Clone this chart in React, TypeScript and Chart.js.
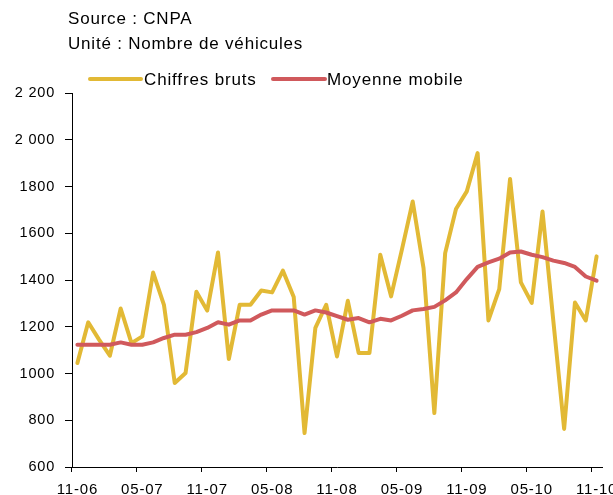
import { useEffect, useRef } from 'react';
import { Chart, registerables } from 'chart.js';

Chart.register(...registerables);

const months = [
  '11-06', '12-06',
  '01-07', '02-07', '03-07', '04-07', '05-07', '06-07', '07-07', '08-07', '09-07', '10-07', '11-07', '12-07',
  '01-08', '02-08', '03-08', '04-08', '05-08', '06-08', '07-08', '08-08', '09-08', '10-08', '11-08', '12-08',
  '01-09', '02-09', '03-09', '04-09', '05-09', '06-09', '07-09', '08-09', '09-09', '10-09', '11-09', '12-09',
  '01-10', '02-10', '03-10', '04-10', '05-10', '06-10', '07-10', '08-10', '09-10', '10-10', '11-10',
];

const shownMonths = ['11-06', '05-07', '11-07', '05-08', '11-08', '05-09', '11-09', '05-10', '11-10'];

const chiffresBruts = [
  1045, 1219, 1145, 1076, 1278, 1130, 1159, 1432, 1294, 959,
  1002, 1350, 1269, 1518, 1062, 1294, 1294, 1355, 1347, 1440,
  1327, 745, 1195, 1294, 1073, 1311, 1088, 1088, 1508, 1330,
  1530, 1736, 1451, 831, 1515, 1704, 1779, 1943, 1227, 1361,
  1832, 1390, 1302, 1693, 1225, 763, 1304, 1227, 1501,
];

const moyenneMobile = [
  1123, 1123, 1123, 1123, 1133, 1123, 1123, 1133, 1152, 1166,
  1166, 1177, 1195, 1219, 1209, 1227, 1227, 1252, 1270, 1270,
  1270, 1252, 1270, 1261, 1245, 1230, 1237, 1219, 1234, 1227,
  1247, 1270, 1276, 1285, 1313, 1347, 1404, 1456, 1475, 1491,
  1518, 1522, 1508, 1498, 1483, 1473, 1456, 1415, 1397,
];

const yTickLabels: Record<number, string> = {
  2200: '2 200', 2000: '2 000', 1800: '1800', 1600: '1600', 1400: '1400',
  1200: '1200', 1000: '1000', 800: '800', 600: '600',
};

const seriesNames = ['Chiffres bruts', 'Moyenne mobile'];
const headerLines = ['Source : CNPA', 'Unité : Nombre de véhicules'];

const YELLOW = '#E2B935';
const RED = '#D0595C';
const FONT_FAMILY = '"Liberation Sans", Arial, sans-serif';

const spacingPlugin = {
  id: 'spacingPlugin',
  beforeDraw(chart: any) {
    (chart.ctx as any).letterSpacing = '0.8px';
  },
};

const headerPlugin = {
  id: 'headerPlugin',
  afterDraw(chart: any) {
    const ctx = chart.ctx as any;
    ctx.save();
    ctx.fillStyle = '#000';
    ctx.textBaseline = 'alphabetic';
    ctx.textAlign = 'left';
    ctx.font = `17px ${FONT_FAMILY}`;
    ctx.letterSpacing = '0.8px';
    ctx.fillText(headerLines[0], 68, 24);
    ctx.fillText(headerLines[1], 68, 49);

    const items = [
      { name: seriesNames[0], color: YELLOW, x0: 90, x1: 141, tx: 144 },
      { name: seriesNames[1], color: RED, x0: 273, x1: 325, tx: 327 },
    ];
    ctx.letterSpacing = '0.85px';
    items.forEach((it) => {
      ctx.strokeStyle = it.color;
      ctx.lineWidth = 4;
      ctx.lineCap = 'round';
      ctx.beginPath();
      ctx.moveTo(it.x0, 79);
      ctx.lineTo(it.x1, 79);
      ctx.stroke();
      ctx.fillText(it.name, it.tx, 85);
    });
    ctx.restore();
  },
};

export default function App() {
  const canvasRef = useRef<HTMLCanvasElement | null>(null);

  useEffect(() => {
    if (!canvasRef.current) return;
    const chart = new Chart(canvasRef.current, {
      type: 'line',
      data: {
        labels: months,
        datasets: [
          {
            label: seriesNames[0],
            data: chiffresBruts,
            borderColor: YELLOW,
            backgroundColor: YELLOW,
            borderWidth: 4,
            pointRadius: 0,
            tension: 0,
            borderJoinStyle: 'round',
            borderCapStyle: 'round',
            order: 1,
          },
          {
            label: seriesNames[1],
            data: moyenneMobile,
            borderColor: RED,
            backgroundColor: RED,
            borderWidth: 4,
            pointRadius: 0,
            tension: 0,
            borderJoinStyle: 'round',
            borderCapStyle: 'round',
            order: 0,
          },
        ],
      },
      options: {
        animation: false,
        responsive: true,
        maintainAspectRatio: false,
        events: [],
        layout: { padding: { top: 93, right: 11, bottom: 0, left: 0 } },
        plugins: {
          legend: { display: false },
          tooltip: { enabled: false },
          title: { display: false },
        },
        scales: {
          x: {
            type: 'category',
            offset: true,
            grid: {
              offset: true,
              drawOnChartArea: false,
              drawTicks: true,
              tickLength: 5,
              tickWidth: 1,
              tickColor: (ctx: any) => (ctx.index % 6 === 0 ? '#000' : 'rgba(0,0,0,0)'),
            },
            border: { color: '#000', width: 1 },
            ticks: {
              autoSkip: false,
              maxRotation: 0,
              minRotation: 0,
              padding: 9,
              color: '#000',
              font: { family: FONT_FAMILY, size: 15 },
              callback: (_v: any, i: number) => (shownMonths.includes(months[i]) ? months[i] : ''),
            },
            afterFit: (s: any) => {
              s.height = 28;
              s.paddingLeft = 0;
              s.paddingRight = 0;
            },
          },
          y: {
            min: 600,
            max: 2200,
            grid: {
              drawOnChartArea: false,
              drawTicks: true,
              tickLength: 7,
              tickColor: '#000',
            },
            border: { color: '#000', width: 1 },
            ticks: {
              stepSize: 200,
              padding: 10,
              color: '#000',
              font: { family: FONT_FAMILY, size: 14.5 },
              callback: (v: any) => yTickLabels[v as number] ?? String(v),
            },
            afterFit: (s: any) => {
              s.width = 72;
              s.paddingTop = 0;
              s.paddingBottom = 0;
            },
          },
        },
      },
      plugins: [spacingPlugin, headerPlugin],
    } as any);
    return () => chart.destroy();
  }, []);

  return (
    <div style={{ position: 'absolute', left: 0, top: 0, width: 613, height: 495, background: '#fff' }}>
      <canvas ref={canvasRef} />
    </div>
  );
}
